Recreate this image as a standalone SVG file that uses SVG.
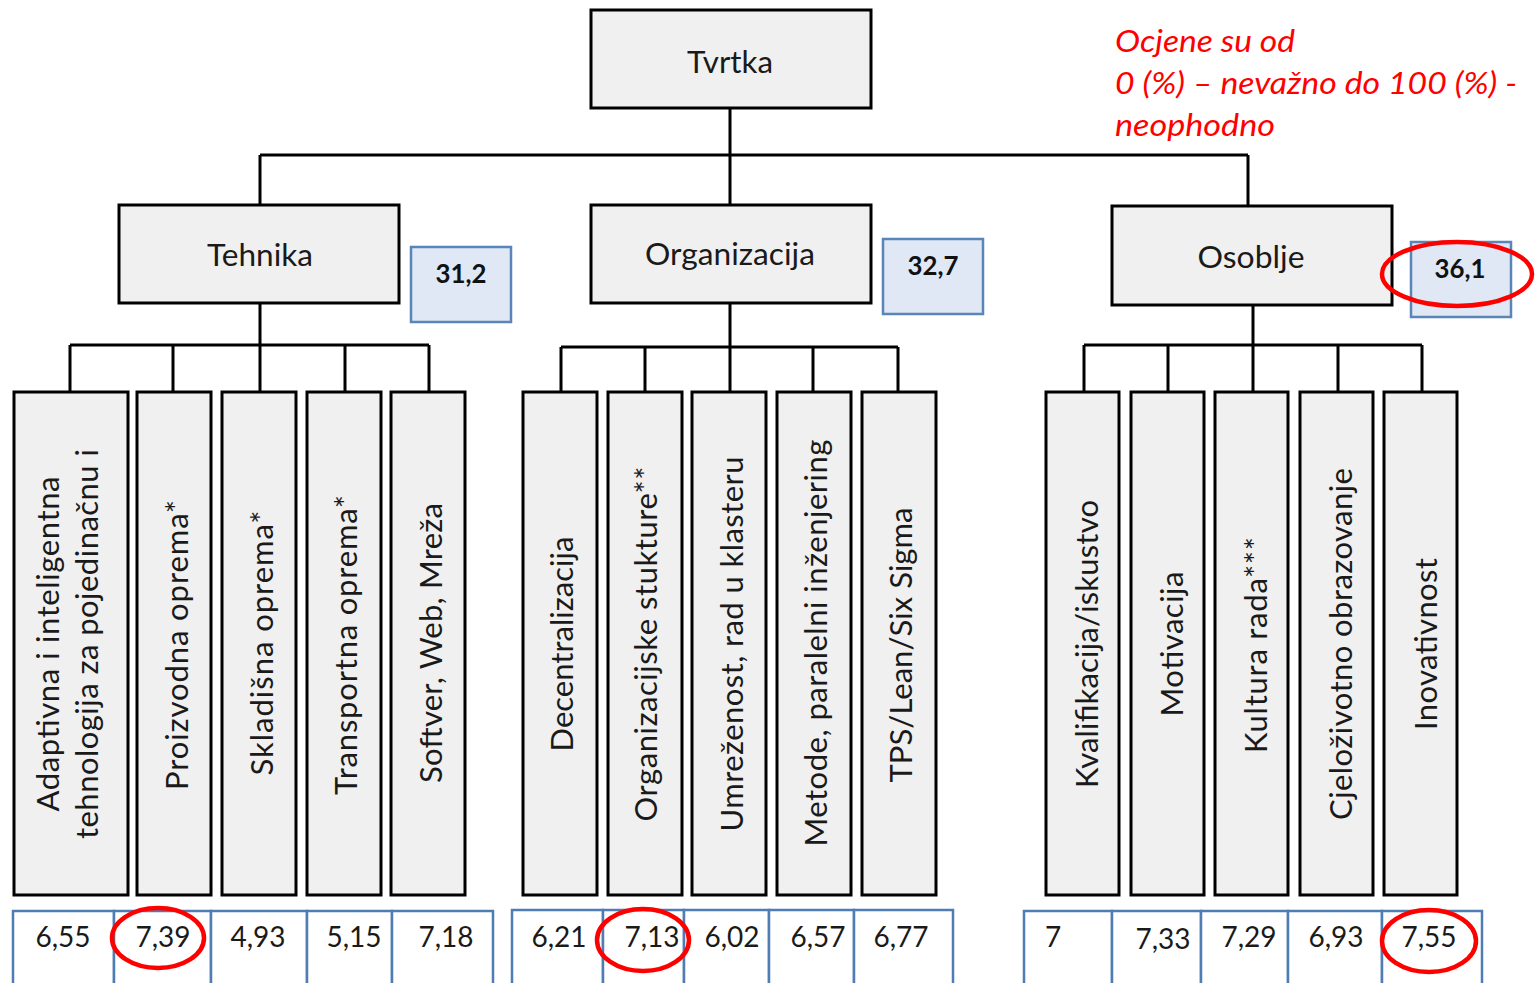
<svg xmlns="http://www.w3.org/2000/svg" width="1540" height="983" viewBox="0 0 1540 983">
<style>
.bg{fill:#ffffff}
.node{fill:#f0f0f0;stroke:#000;stroke-width:3}
.score{fill:#dfe8f4;stroke:#5a85b8;stroke-width:2.5}
.cell{fill:#ffffff;stroke:#4f7db3;stroke-width:2.5}
.conn{stroke:#000;stroke-width:3;fill:none}
.lbl{font-family:Lato,"Liberation Sans",sans-serif;font-size:31px;fill:#1a1a1a;text-anchor:middle}
.vt{font-family:Lato,"Liberation Sans",sans-serif;font-size:31px;fill:#1a1a1a;text-anchor:middle}
.sc{font-family:Lato,"Liberation Sans",sans-serif;font-size:26px;font-weight:bold;fill:#111;text-anchor:middle}
.num{font-family:Lato,"Liberation Sans",sans-serif;font-size:28px;fill:#1a1a1a;text-anchor:middle}
.note{font-family:Lato,"Liberation Sans",sans-serif;font-size:31px;font-style:italic;fill:#ff0000}
.mark{fill:none;stroke:#ff0000;stroke-width:4.5}
</style>
<rect class="bg" x="0" y="0" width="1540" height="983"/>

<g id="connectors">
  <path class="conn" d="M730,108 V205 M260,155 H1248 M260,155 V205 M1248,155 V206"/>
  <path class="conn" d="M260,303 V345 M70,345 H429 M70,345 V392 M173,345 V392 M260,345 V392 M345,345 V392 M429,345 V392"/>
  <path class="conn" d="M730,303 V347 M561,347 H898 M561,347 V392 M645,347 V392 M730,347 V392 M813,347 V392 M898,347 V392"/>
  <path class="conn" d="M1253,305 V345 M1084,345 H1422 M1084,345 V392 M1168,345 V392 M1253,345 V392 M1338,345 V392 M1422,345 V392"/>
</g>

<g id="tvrtka"><rect class="node" x="591" y="10" width="280" height="98"/><text class="lbl" x="730" y="73" textLength="86" lengthAdjust="spacingAndGlyphs">Tvrtka</text></g>

<g id="tehnika"><rect class="node" x="119" y="205" width="280" height="98"/><text class="lbl" x="260" y="266" textLength="106" lengthAdjust="spacingAndGlyphs">Tehnika</text></g>
<g id="tehnika-score"><rect class="score" x="411" y="247" width="100" height="75"/><text class="sc" x="461" y="283" textLength="51" lengthAdjust="spacingAndGlyphs">31,2</text></g>

<g id="organizacija"><rect class="node" x="591" y="205" width="280" height="98"/><text class="lbl" x="730" y="265" textLength="170" lengthAdjust="spacingAndGlyphs">Organizacija</text></g>
<g id="organizacija-score"><rect class="score" x="883" y="239" width="100" height="75"/><text class="sc" x="933" y="275" textLength="51" lengthAdjust="spacingAndGlyphs">32,7</text></g>

<g id="osoblje"><rect class="node" x="1112" y="206" width="280" height="99"/><text class="lbl" x="1251" y="268" textLength="107" lengthAdjust="spacingAndGlyphs">Osoblje</text></g>
<g id="osoblje-score"><rect class="score" x="1411" y="242" width="100" height="75"/><text class="sc" x="1460" y="278" textLength="51" lengthAdjust="spacingAndGlyphs">36,1</text></g>

<g id="t1"><rect class="node" x="14" y="392" width="114" height="503"/>
  <text class="vt" transform="translate(59,644) rotate(-90)" textLength="335">Adaptivna i inteligentna</text>
  <text class="vt" transform="translate(98,644) rotate(-90)" textLength="390">tehnologija za pojedinačnu i</text></g>
<g id="t2"><rect class="node" x="137" y="392" width="74" height="503"/><text class="vt" transform="translate(188,645) rotate(-90)" textLength="290">Proizvodna oprema*</text></g>
<g id="t3"><rect class="node" x="222" y="392" width="74" height="503"/><text class="vt" transform="translate(273,643) rotate(-90)" textLength="265">Skladišna oprema*</text></g>
<g id="t4"><rect class="node" x="307" y="392" width="74" height="503"/><text class="vt" transform="translate(357,645) rotate(-90)" textLength="300">Transportna oprema*</text></g>
<g id="t5"><rect class="node" x="391" y="392" width="74" height="503"/><text class="vt" transform="translate(442,643) rotate(-90)" textLength="280">Softver, Web, Mreža</text></g>

<g id="o1"><rect class="node" x="523" y="392" width="74" height="503"/><text class="vt" transform="translate(573,644) rotate(-90)" textLength="215">Decentralizacija</text></g>
<g id="o2"><rect class="node" x="608" y="392" width="74" height="503"/><text class="vt" transform="translate(657,644) rotate(-90)" textLength="355">Organizacijske stukture**</text></g>
<g id="o3"><rect class="node" x="692" y="392" width="74" height="503"/><text class="vt" transform="translate(743,644) rotate(-90)" textLength="375">Umreženost, rad u klasteru</text></g>
<g id="o4"><rect class="node" x="777" y="392" width="74" height="503"/><text class="vt" transform="translate(827,643) rotate(-90)" textLength="407">Metode, paralelni inženjering</text></g>
<g id="o5"><rect class="node" x="862" y="392" width="74" height="503"/><text class="vt" transform="translate(912,645) rotate(-90)" textLength="275">TPS/Lean/Six Sigma</text></g>

<g id="p1"><rect class="node" x="1046" y="392" width="73" height="503"/><text class="vt" transform="translate(1098,644) rotate(-90)" textLength="288">Kvalifikacija/iskustvo</text></g>
<g id="p2"><rect class="node" x="1131" y="392" width="73" height="503"/><text class="vt" transform="translate(1183,644) rotate(-90)" textLength="145">Motivacija</text></g>
<g id="p3"><rect class="node" x="1215" y="392" width="73" height="503"/><text class="vt" transform="translate(1267,645) rotate(-90)" textLength="216">Kultura rada***</text></g>
<g id="p4"><rect class="node" x="1300" y="392" width="73" height="503"/><text class="vt" transform="translate(1352,644) rotate(-90)" textLength="352">Cjeloživotno obrazovanje</text></g>
<g id="p5"><rect class="node" x="1384" y="392" width="73" height="503"/><text class="vt" transform="translate(1437,644) rotate(-90)" textLength="172">Inovativnost</text></g>

<g id="scores-tehnika">
  <rect class="cell" x="13" y="911" width="101" height="90"/><rect class="cell" x="114" y="911" width="97" height="90"/><rect class="cell" x="211" y="911" width="96" height="90"/><rect class="cell" x="307" y="911" width="85" height="90"/><rect class="cell" x="392" y="911" width="101" height="90"/>
  <text class="num" x="63" y="947">6,55</text><text class="num" x="163" y="947">7,39</text><text class="num" x="258" y="947">4,93</text><text class="num" x="354" y="947">5,15</text><text class="num" x="446" y="947">7,18</text>
</g>
<g id="scores-organizacija">
  <rect class="cell" x="512" y="910" width="91" height="90"/><rect class="cell" x="603" y="910" width="81" height="90"/><rect class="cell" x="684" y="910" width="85" height="90"/><rect class="cell" x="769" y="910" width="85" height="90"/><rect class="cell" x="854" y="910" width="99" height="90"/>
  <text class="num" x="559" y="947">6,21</text><text class="num" x="652" y="947">7,13</text><text class="num" x="732" y="947">6,02</text><text class="num" x="818" y="947">6,57</text><text class="num" x="901" y="947">6,77</text>
</g>
<g id="scores-osoblje">
  <rect class="cell" x="1024" y="911" width="88" height="90"/><rect class="cell" x="1112" y="911" width="89" height="90"/><rect class="cell" x="1201" y="911" width="87" height="90"/><rect class="cell" x="1288" y="911" width="94" height="90"/><rect class="cell" x="1382" y="911" width="100" height="90"/>
  <text class="num" x="1053" y="947">7</text><text class="num" x="1163" y="949">7,33</text><text class="num" x="1249" y="947">7,29</text><text class="num" x="1336" y="947">6,93</text><text class="num" x="1429" y="947">7,55</text>
</g>

<g id="note">
  <text class="note" x="1115" y="52" textLength="180" lengthAdjust="spacingAndGlyphs">Ocjene su od</text>
  <text class="note" x="1115" y="94" textLength="402" lengthAdjust="spacingAndGlyphs">0 (%) – nevažno do 100 (%) -</text>
  <text class="note" x="1115" y="136" textLength="160" lengthAdjust="spacingAndGlyphs">neophodno</text>
</g>

<g id="highlights">
  <ellipse class="mark" cx="1457" cy="274" rx="75" ry="32"/>
  <ellipse class="mark" cx="158" cy="938" rx="46" ry="30"/>
  <ellipse class="mark" cx="643" cy="940" rx="46" ry="31"/>
  <ellipse class="mark" cx="1429" cy="941" rx="47" ry="31"/>
</g>
</svg>
